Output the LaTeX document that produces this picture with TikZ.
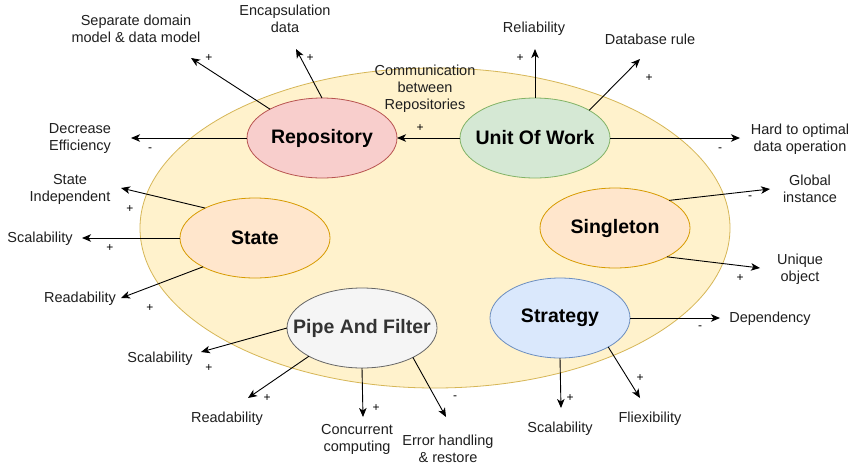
\documentclass[tikz,border=0pt]{standalone}
\usepackage{fontspec}
\setmainfont{Liberation Sans}
\usetikzlibrary{shapes.geometric,arrows.meta}
\definecolor{bgfill}{HTML}{FFF2CC}
\definecolor{bgdraw}{HTML}{D6B656}
\definecolor{redfill}{HTML}{F8CECC}
\definecolor{reddraw}{HTML}{B85450}
\definecolor{greenfill}{HTML}{D5E8D4}
\definecolor{greendraw}{HTML}{82B366}
\definecolor{orfill}{HTML}{FFE6CC}
\definecolor{ordraw}{HTML}{D79B00}
\definecolor{bluefill}{HTML}{DAE8FC}
\definecolor{bluedraw}{HTML}{6C8EBF}
\definecolor{grayfill}{HTML}{F5F5F5}
\definecolor{graydraw}{HTML}{666666}
\definecolor{graytext}{HTML}{333333}
\tikzset{
  blob/.style={ellipse, minimum width=150pt, minimum height=80pt, inner sep=0pt, outer sep=0pt,
    line width=0.8pt},
  blobtxt/.style={font=\fontsize{19.5}{22}\selectfont\bfseries, inner sep=0pt},
  lbl/.style={align=center, inner sep=0pt, font=\fontsize{14.5}{17}\selectfont, text=black!88},
  sgn/.style={inner sep=0pt, font=\fontsize{12}{14}\selectfont},
  arr/.style={-{Stealth[length=9pt,width=7.5pt,inset=2.5pt]}, line width=0.9pt},
}
\begin{document}
\begin{tikzpicture}[x=1pt,y=-1pt]
\useasboundingbox (0,0) rectangle (861,466);
\fill[white] (0,0) rectangle (861,466);

% background ellipse
\node[ellipse, minimum width=590pt, minimum height=320pt, inner sep=0pt, fill=bgfill, draw=bgdraw, line width=0.8pt] (bg) at (435,228) {};

% pattern nodes
\node[blob, fill=redfill, draw=reddraw, label={[blobtxt]center:Repository}] (rep) at (322,138) {};
\node[blob, fill=greenfill, draw=greendraw, label={[blobtxt]center:Unit Of Work}] (uow) at (535,138) {};
\node[blob, fill=orfill, draw=ordraw, label={[blobtxt]center:State}] (state) at (255,238) {};
\node[blob, fill=orfill, draw=ordraw, label={[blobtxt]center:Singleton}] (single) at (615,228) {};
\node[blob, fill=bluefill, draw=bluedraw, minimum width=140pt, label={[blobtxt]center:Strategy}] (strat) at (560,318) {};
\node[blob, fill=grayfill, draw=graydraw, label={[blobtxt, text=graytext]center:Pipe And Filter}] (pipe) at (362,328) {};

% Repository
\coordinate (rSep) at (191,58);
\coordinate (rEnc) at (296,49);
\coordinate (rDec) at (131,138);
\draw[arr] (rep.151.7) -- (rSep);
\draw[arr] (rep.north) -- (rEnc);
\draw[arr] (rep.west) -- (rDec);
\node[lbl] (tSep) at (136,29) {Separate domain\\model \& data model};
\node[lbl] (tEnc) at (285,19) {Encapsulation\\data};
\node[lbl] (tDec) at (80,139) {Decrease\\Efficiency};
\node[sgn] at (209,58) {+};
\node[sgn] at (310,58) {+};
\node[sgn] at (150,150) {-};

% Unit of Work
\draw[arr] (uow.west) -- (rep.east);
\node[lbl] (tCom) at (425,89) {Communication\\between\\Repositories};
\node[sgn] at (420,128) {+};
\coordinate (uRel) at (535,49);
\coordinate (uDb) at (640,59);
\coordinate (uHard) at (740,138);
\draw[arr] (uow.north) -- (uRel);
\draw[arr] (uow.27.4) -- (uDb);
\draw[arr] (uow.east) -- (uHard);
\node[lbl] (tRel) at (534,29) {Reliability};
\node[lbl] (tDb) at (650,39) {Database rule};
\node[lbl] (tHard) at (800,139) {Hard to optimal\\data operation};
\node[sgn] at (520,58) {+};
\node[sgn] at (649,78) {+};
\node[sgn] at (720,150) {-};

% State
\coordinate (sInd) at (121,188);
\coordinate (sSca) at (82,238);
\coordinate (sRea) at (121,298);
\draw[arr] (state.149.2) -- (sInd);
\draw[arr] (state.west) -- (sSca);
\draw[arr] (state.209.1) -- (sRea);
\node[lbl] (tInd) at (70,189) {State\\Independent};
\node[lbl] (tSSca) at (40,239) {Scalability};
\node[lbl] (tSRea) at (80,299) {Readability};
\node[sgn] at (130,209) {+};
\node[sgn] at (110,248) {+};
\node[sgn] at (150,308) {+};

% Singleton
\coordinate (gGlob) at (770,189);
\coordinate (gUni) at (760,268);
\draw[arr] (single.27.4) -- (gGlob);
\draw[arr] (single.331.8) -- (gUni);
\node[lbl] (tGlob) at (810,189) {Global\\instance};
\node[lbl] (tUni) at (800,269) {Unique\\object};
\node[sgn] at (750,198) {-};
\node[sgn] at (740,278) {+};

% Strategy
\coordinate (yDep) at (720,318);
\coordinate (ySca) at (561,408);
\coordinate (yFle) at (640,398);
\draw[arr] (strat.east) -- (yDep);
\draw[arr] (strat.south) -- (ySca);
\draw[arr] (strat.329.9) -- (yFle);
\node[lbl] (tDep) at (770,319) {Dependency};
\node[lbl] (tYSca) at (560,429) {Scalability};
\node[lbl] (tFle) at (650,419) {Fliexibility};
\node[sgn] at (700,328) {-};
\node[sgn] at (570,398) {+};
\node[sgn] at (640,378) {+};

% Pipe and Filter
\coordinate (pSca) at (201,352);
\coordinate (pRea) at (248,398);
\coordinate (pCon) at (363,417);
\coordinate (pErr) at (446,417);
\draw[arr] (pipe.west) -- (pSca);
\draw[arr] (pipe.208.7) -- (pRea);
\draw[arr] (pipe.south) -- (pCon);
\draw[arr] (pipe.330.9) -- (pErr);
\node[lbl] (tPSca) at (160,359) {Scalability};
\node[lbl] (tPRea) at (227,419) {Readability};
\node[lbl] (tCon) at (357,439) {Concurrent\\computing};
\node[lbl] (tErr) at (448,449) {Error handling\\\& restore};
\node[sgn] at (209,368) {+};
\node[sgn] at (267,398) {+};
\node[sgn] at (376,408) {+};
\node[sgn] at (455,398) {-};
\end{tikzpicture}
\end{document}
